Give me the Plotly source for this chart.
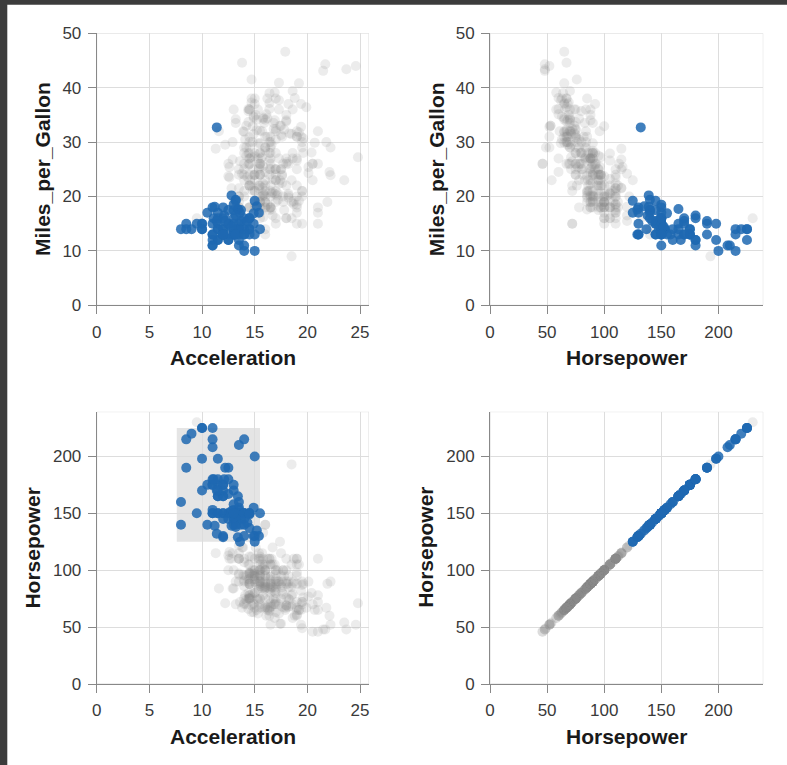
import plotly.graph_objects as go

# Cars dataset: miles per gallon, horsepower and 0-60 acceleration (seconds), one entry per car.
MPG = [
    18, 15, 18, 16, 17, 15, 14, 14, 14, 15, None, None, None, None, None, None,
    15, 14, 15, 14, 24, 22, 18, 21, 27, 26, 25, 24, 25, 26, 21, 10, 10, 11, 9,
    27, 28, 25, 25, 19, 16, 17, 19, 18, 14, 14, 14, 14, 12, 13, 13, 18, 22, 19, 18, 23, 28, 30, 30, 31, 35, 27, 26, 24, 25, 23, 20, 21,
    13, 14, 15, 14, 17, 11, 13, 12, 13, 19, 15, 13, 13, 14, 18, 22, 21, 26, 22, 28, 23, 28, 27,
    13, 14, 13, 14, 15, 12, 13, 13, 14, 13, 12, 13, 18, 16, 18, 18, 23, 26, 11, 12, 13, 12, 18, 20, 21, 22, 18, 19, 21, 26, 15, 16, 29, 24, 20, 19, 15, 24, 20, 11,
    20, 21, 19, 15, 31, 26, 32, 25, 16, 16, 18, 16, 13, 14, 14, 14, 29, 26, 26, 31, 32, 28, 24, 26, 24, 26, 31,
    19, 18, 15, 15, 16, 15, 16, 14, 17, 16, 15, 18, 21, 20, 13, 29, 23, 20, 23, 24, 25, 24, 18, 29, 19, 23, 23, 22, 25, 33,
    28, 25, 25, 26, 27, 17.5, 16, 15.5, 14.5, 22, 22, 24, 22.5, 29, 24.5, 29, 33, 20, 18, 18.5, 17.5, 29.5, 32, 28, 26.5, 20, 13, 19, 19, 16.5, 16.5, 13, 13, 13,
    31.5, 30, 36, 25.5, 33.5, 17.5, 17, 15.5, 15, 17.5, 20.5, 19, 18.5, 16, 15.5, 15.5, 16, 29, 24.5, 26, 25.5, 30.5, 33.5, 30, 30.5, 22, 21.5, 21.5,
    43.1, 36.1, 32.8, 39.4, 36.1, 19.9, 19.4, 20.2, 19.2, 20.5, 20.2, 25.1, 20.5, 19.4, 20.6, 20.8, 18.6, 18.1, 19.2, 17.7, 18.1, 17.5, 30, 27.5, 27.2, 30.9, 21.1, 23.2, 23.8, 23.9, 20.3, 17, 21.6, 16.2, 31.5, 29.5,
    21.5, 19.8, 22.3, 20.2, 20.6, 17, 17.6, 16.5, 18.2, 16.9, 15.5, 19.2, 18.5, 31.9, 34.1, 35.7, 27.4, 25.4, 23, 27.2, 23.9, 34.2, 34.5, 31.8, 37.3, 28.4, 28.8, 26.8, 33.5,
    41.5, 38.1, 32.1, 37.2, 28, 26.4, 24.3, 19.1, 34.3, 29.8, 31.3, 37, 32.2, 46.6, 27.9, 40.8, 44.3, 43.4, 36.4, 30, 44.6, 40.9, 33.8, 29.8, 32.7, 23.7, 35, 23.6, 32.4,
    27.2, 26.6, 25.8, 23.5, 30, 39.1, 39, 35.1, 32.3, 37, 37.7, 34.1, 34.7, 34.4, 29.9, 33, 34.5, 33.7, 32.4, 32.9, 31.6, 28.1, None, 30.7, 25.4, 24.2, 22.4, 26.6, 20.2, 17.6,
    28, 27, 34, 31, 29, 27, 24, 23, 36, 37, 31, 38, 36, 36, 36, 34, 38, 32, 38, 25, 38, 26, 22, 32, 36, 27, 27, 44, 32, 28, 31,
]

HORSEPOWER = [
    130, 165, 150, 150, 140, 198, 220, 215, 225, 190, 115, 165, 153, 175, 175, 140,
    170, 160, 150, 225, 95, 95, 97, 85, 88, 46, 87, 90, 95, 113, 90, 215, 200, 210, 193,
    88, 90, 95, None, 100, 105, 100, 88, 100, 165, 175, 153, 150, 180, 170, 175, 110, 72, 100, 88, 86, 90, 70, 76, 65, 69, 60, 70, 95, 80, 54, 90, 86,
    165, 175, 150, 153, 150, 208, 155, 160, 190, 97, 150, 130, 140, 150, 112, 76, 87, 69, 86, 92, 97, 80, 88,
    175, 150, 145, 137, 150, 198, 150, 158, 150, 215, 225, 175, 105, 100, 100, 88, 95, 46, 150, 167, 170, 180, 100, 88, 72, 94, 90, 85, 107, 90, 145, 230, 49, 75, 91, 112, 150, 110, 122, 180,
    95, None, 100, 100, 67, 80, 65, 75, 100, 110, 105, 140, 150, 150, 140, 150, 83, 67, 78, 52, 61, 75, 75, 75, 97, 93, 67,
    95, 105, 72, 72, 170, 145, 150, 148, 110, 105, 110, 95, 110, 110, 129, 75, 83, 100, 78, 96, 71, 97, 97, 70, 90, 95, 88, 98, 115, 53,
    86, 81, 92, 79, 83, 140, 150, 120, 152, 100, 105, 81, 90, 52, 60, 70, 53, 100, 78, 110, 95, 71, 70, 75, 72, 102, 150, 88, 108, 120, 180, 145, 130, 150,
    68, 80, 58, 96, 70, 145, 110, 145, 130, 110, 105, 100, 98, 180, 170, 190, 149, 78, 88, 75, 89, 63, 83, 67, 78, 97, 110, 110,
    48, 66, 52, 70, 60, 110, 140, 139, 105, 95, 85, 88, 100, 90, 105, 85, 110, 120, 145, 165, 139, 140, 68, 95, 97, 75, 95, 105, 85, 97, 103, 125, 115, 133, 71, 68,
    115, 85, 88, 90, 110, 130, 129, 138, 135, 155, 142, 125, 150, 71, 65, 80, 80, 77, 125, 71, 90, 70, 70, 65, 69, 90, 115, 115, 90,
    76, 60, 70, 65, 90, 88, 90, 90, 78, 90, 75, 92, 75, 65, 105, 65, 48, 48, 67, 67, 67, None, 67, 62, 132, 100, 88, None, 72,
    84, 84, 92, 110, 84, 58, 64, 60, 67, 65, 62, 68, 63, 65, 65, 74, None, 75, 75, 100, 74, 80, 110, 76, 116, 120, 110, 105, 88, 85,
    88, 88, 88, 85, 84, 90, 92, None, 74, 68, 68, 63, 70, 88, 75, 70, 67, 67, 67, 110, 85, 92, 112, 96, 84, 90, 86, 52, 84, 79, 82,
]

ACCELERATION = [
    12.0, 11.5, 11.0, 12.0, 10.5, 10.0, 9.0, 8.5, 10.0, 8.5, 17.5, 11.5, 11.0, 10.5, 11.0, 8.0,
    10.0, 8.0, 9.5, 10.0, 15.0, 15.5, 15.5, 16.0, 14.5, 20.5, 17.5, 14.5, 17.5, 12.5, 15.0, 14.0, 15.0, 13.5, 18.5,
    14.5, 15.5, 14.0, 19.0, 13.0, 15.5, 15.5, 15.5, 15.5, 12.0, 11.5, 13.5, 13.0, 11.5, 12.0, 12.0, 13.5, 19.0, 15.0, 14.5, 14.0, 14.0, 19.5, 14.5, 19.0, 18.0, 19.0, 20.5, 15.5, 17.0, 23.5, 19.5, 16.5,
    12.0, 12.0, 13.5, 13.0, 11.5, 11.0, 13.5, 13.5, 12.5, 13.5, 12.5, 14.0, 16.0, 14.0, 14.5, 18.0, 19.5, 18.0, 16.0, 17.0, 14.5, 15.0, 16.5,
    13.0, 11.5, 13.0, 14.5, 12.5, 11.5, 12.0, 13.0, 14.5, 11.0, 11.0, 11.0, 16.5, 18.0, 16.0, 16.5, 16.0, 21.0, 14.0, 12.5, 13.0, 12.5, 15.0, 19.0, 19.5, 16.5, 13.5, 18.5, 14.0, 15.5, 13.0, 9.5, 19.5, 15.5, 14.0, 15.5, 11.0, 14.0, 13.5, 11.0,
    16.5, 17.0, 16.0, 17.0, 19.0, 16.5, 21.0, 17.0, 17.0, 18.0, 16.5, 14.0, 14.5, 13.5, 16.0, 15.5, 16.5, 15.5, 14.5, 16.5, 19.0, 14.5, 15.5, 14.0, 15.0, 15.5, 16.0,
    16.0, 16.0, 21.0, 19.5, 11.5, 14.0, 14.5, 13.5, 21.0, 18.5, 19.0, 19.0, 15.0, 13.5, 12.0, 16.0, 17.0, 16.0, 18.5, 13.5, 16.5, 17.0, 14.5, 14.0, 17.0, 15.0, 17.0, 14.5, 13.5, 17.5,
    15.5, 16.9, 14.9, 17.7, 15.3, 13.0, 13.0, 13.9, 12.8, 15.4, 14.5, 17.6, 17.6, 22.2, 22.1, 14.2, 17.4, 17.7, 21.0, 16.2, 17.8, 12.2, 17.0, 16.4, 13.6, 15.7, 13.2, 21.9, 15.5, 16.7, 12.1, 12.0, 15.0, 14.0,
    18.5, 14.8, 18.6, 15.5, 16.8, 12.5, 19.0, 13.7, 14.9, 16.4, 16.9, 17.7, 19.0, 11.1, 11.4, 12.2, 14.5, 14.5, 16.0, 18.2, 15.8, 17.0, 15.9, 16.4, 14.1, 14.5, 12.8, 13.5,
    21.5, 14.4, 19.4, 18.6, 16.4, 15.5, 13.2, 12.8, 19.2, 18.2, 15.8, 15.4, 17.2, 17.2, 15.8, 16.7, 18.7, 15.1, 13.2, 13.4, 11.2, 13.7, 16.5, 14.2, 14.7, 14.5, 14.8, 16.7, 17.6, 14.9, 15.9, 13.6, 15.7, 15.8, 14.9, 16.6,
    15.4, 18.2, 17.3, 18.2, 16.6, 15.4, 13.4, 13.2, 15.2, 14.9, 14.3, 15.0, 13.0, 14.0, 15.2, 14.4, 15.0, 20.1, 17.4, 24.8, 22.2, 13.2, 14.9, 19.2, 14.7, 16.0, 11.3, 12.9, 13.2,
    14.7, 18.8, 15.5, 16.4, 16.5, 18.1, 20.1, 18.7, 15.8, 15.5, 17.5, 15.0, 15.2, 17.9, 14.4, 19.2, 21.7, 23.7, 19.9, 21.8, 13.8, 17.3, 18.0, 15.3, 11.4, 12.5, 15.1, 14.3, 17.0,
    15.7, 16.4, 14.4, 12.6, 12.9, 16.9, 16.4, 16.1, 17.8, 19.4, 17.3, 16.0, 14.9, 16.2, 20.7, 14.2, 15.8, 14.4, 16.8, 14.8, 18.3, 20.4, 15.4, 19.6, 12.6, 13.8, 15.8, 19.0, 17.1, 16.6,
    19.6, 18.6, 18.0, 16.2, 16.0, 18.0, 16.4, 20.5, 15.3, 18.2, 17.6, 14.7, 17.3, 14.5, 14.5, 16.9, 15.0, 15.7, 16.2, 16.4, 17.0, 14.5, 14.7, 13.9, 13.0, 17.3, 15.6, 24.6, 11.6, 18.6, 19.4,
]

# Interval brush drawn on the Acceleration x Horsepower view
BRUSH_ACCELERATION = [7.6, 15.5]
BRUSH_HORSEPOWER = [125, 225]

AXIS_TICKS = {
    "Acceleration": [0, 5, 10, 15, 20, 25],
    "Horsepower": [0, 50, 100, 150, 200],
    "Miles_per_Gallon": [0, 10, 20, 30, 40, 50],
}
AXIS_RANGE = {
    "Acceleration": [0, 25.85],
    "Horsepower": [0, 239.3],
    "Miles_per_Gallon": [0, 50],
}

SELECTED_COLOR = "rgb(30,105,178)"
OTHER_COLOR = "#8a8a8a"
FONT = "Liberation Sans, Arial, Helvetica, sans-serif"

W, H = 787, 765
COLS = [(96.7, 369.0), (490.0, 763.3)]      # plot x extents in px
ROWS = [(33.3, 305.3), (411.7, 684.0)]      # plot y extents in px


def in_brush(a, h):
    if a is None or h is None:
        return False
    return (BRUSH_ACCELERATION[0] <= a <= BRUSH_ACCELERATION[1]
            and BRUSH_HORSEPOWER[0] <= h <= BRUSH_HORSEPOWER[1])


selected = [in_brush(a, h) for a, h in zip(ACCELERATION, HORSEPOWER)]
fields = {"Acceleration": ACCELERATION, "Horsepower": HORSEPOWER, "Miles_per_Gallon": MPG}

# (x field, y field) for each cell, row-major
cells = [
    ("Acceleration", "Miles_per_Gallon"),
    ("Horsepower", "Miles_per_Gallon"),
    ("Acceleration", "Horsepower"),
    ("Horsepower", "Horsepower"),
]

fig = go.Figure()
axis_common = dict(
    showgrid=True, gridcolor="#dddddd", gridwidth=1,
    zeroline=False, showline=True, linecolor="#888888", linewidth=1,
    ticks="outside", ticklen=8, tickwidth=1, tickcolor="#888888",
    ticklabelstandoff=3,
    tickfont=dict(family=FONT, size=17, color="#3a3a3a"),
    fixedrange=True,
)

layout_axes = {}
annotations = []
shapes = []
for i, (xf, yf) in enumerate(cells):
    r, c = divmod(i, 2)
    n = "" if i == 0 else str(i + 1)
    xs, ys = fields[xf], fields[yf]

    for flag, color, opacity in ((False, OTHER_COLOR, 0.16), (True, SELECTED_COLOR, 0.85)):
        px = [x for x, y, s in zip(xs, ys, selected) if s == flag and x is not None and y is not None]
        py = [y for x, y, s in zip(xs, ys, selected) if s == flag and x is not None and y is not None]
        fig.add_trace(go.Scatter(
            x=px, y=py, mode="markers", xaxis="x" + n, yaxis="y" + n,
            marker=dict(size=10, color=color, opacity=opacity, line=dict(width=0)),
            hoverinfo="skip", showlegend=False,
        ))

    x0, x1 = COLS[c]
    y0, y1 = ROWS[r]
    layout_axes["xaxis" + n] = dict(
        axis_common, domain=[x0 / W, x1 / W], anchor="y" + n,
        range=AXIS_RANGE[xf], tickvals=AXIS_TICKS[xf],
    )
    layout_axes["yaxis" + n] = dict(
        axis_common, domain=[1 - y1 / H, 1 - y0 / H], anchor="x" + n,
        range=AXIS_RANGE[yf], tickvals=AXIS_TICKS[yf],
    )

    # light frame around the view (drawn in data coordinates of the full range)
    shapes.append(dict(type="rect", xref="x" + n, yref="y" + n,
                       x0=AXIS_RANGE[xf][0], x1=AXIS_RANGE[xf][1],
                       y0=AXIS_RANGE[yf][0], y1=AXIS_RANGE[yf][1],
                       line=dict(color="#dddddd", width=1),
                       fillcolor="rgba(0,0,0,0)", layer="below"))

    title_font = dict(family=FONT, size=21, color="#1a1a1a")
    annotations.append(dict(text=f"<b>{xf}</b>", xref="paper", yref="paper",
                            x=(x0 + x1) / 2 / W, y=1 - (y1 + 52) / H,
                            xanchor="center", yanchor="middle",
                            showarrow=False, font=title_font))
    off = 54 if yf == "Miles_per_Gallon" else 64
    annotations.append(dict(text=f"<b>{yf}</b>", xref="paper", yref="paper",
                            x=(x0 - off) / W, y=1 - (y0 + y1) / 2 / H,
                            xanchor="center", yanchor="middle", textangle=-90,
                            showarrow=False, font=title_font))

# brush rectangle
shapes.append(dict(type="rect", xref="x3", yref="y3",
                   x0=BRUSH_ACCELERATION[0], x1=BRUSH_ACCELERATION[1],
                   y0=BRUSH_HORSEPOWER[0], y1=BRUSH_HORSEPOWER[1],
                   fillcolor="rgba(51,51,51,0.125)", line=dict(width=0), layer="below"))

# dark window edge along the left and top
shapes.append(dict(type="rect", xref="paper", yref="paper", x0=0, x1=7.3 / W, y0=0, y1=1,
                   fillcolor="#3c3c3c", line=dict(width=0), layer="above"))
shapes.append(dict(type="rect", xref="paper", yref="paper", x0=0, x1=1, y0=1 - 4.7 / H, y1=1,
                   fillcolor="#3c3c3c", line=dict(width=0), layer="above"))

fig.update_layout(
    width=W, height=H,
    margin=dict(l=0, r=0, t=0, b=0, autoexpand=False),
    paper_bgcolor="white", plot_bgcolor="white",
    shapes=shapes, annotations=annotations,
    showlegend=False,
    **layout_axes,
)

fig.write_html("out.html", config={"displayModeBar": False})
